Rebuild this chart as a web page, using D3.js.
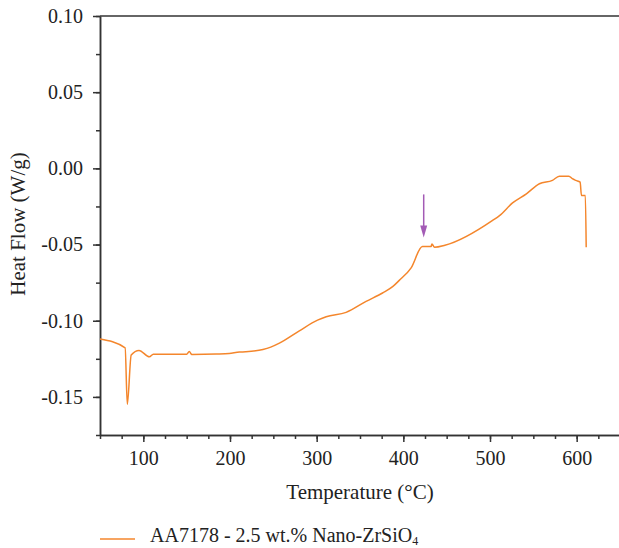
<!DOCTYPE html>
<html>
<head>
<meta charset="utf-8">
<script src="https://cdn.jsdelivr.net/npm/d3@7/dist/d3.min.js"></script>
<style>
	body { margin: 0; background: #fff; }
	.axis path, .axis line { stroke: #333; stroke-width: 1.5; }
	.axis text { font-family: "Liberation Serif", "DejaVu Serif", serif; fill: #222; }
	.label { font-family: "Liberation Serif", "DejaVu Serif", serif; fill: #222; }
</style>
</head>
<body>
<div id="chart"></div>
<script>
//Data
var temps = [50, 79, 81.5, 86, 95, 107, 111.5, 150, 153, 156, 184, 199, 211, 218, 238, 247, 257,
	280, 301, 311, 334, 357, 376, 388, 395, 409, 422, 432, 433, 436, 448, 503, 511, 526, 542,
	557, 572, 580, 591, 595, 599, 604, 605.5, 610, 611];
var heatFlow = [-0.112, -0.1178, -0.1548, -0.1225, -0.1195, -0.1237, -0.1220, -0.1220, -0.1202, -0.1222,
	-0.1219, -0.1215, -0.1206, -0.1204, -0.1189, -0.1173, -0.1147,
	-0.1066, -0.0996, -0.0974, -0.0945, -0.0873, -0.0818, -0.0775, -0.0737, -0.0653, -0.0513, -0.0513, -0.0496, -0.0518, -0.0505, -0.0342, -0.0310, -0.0227, -0.0167,
	-0.0101, -0.0079, -0.0051, -0.0051, -0.0068, -0.0079, -0.0090, -0.0178, -0.0178, -0.0518];

//Arrow marker: temperature, start and tip heat flow
var arrowTemp = 423.5;
var arrowFrom = -0.0171, arrowTo = -0.0454;

var xTicks = [100, 200, 300, 400, 500, 600];
var yTicks = [0.10, 0.05, 0.00, -0.05, -0.10, -0.15];
var seriesName = "AA7178 - 2.5 wt.% Nano-ZrSiO";

var W = 619, H = 548;
var plotL = 100, plotR = 620, plotT = 16, plotB = 435;

var xScale = d3.scaleLinear().domain([50, 650]).range([plotL, plotR]);
var yScale = d3.scaleLinear().domain([-0.175, 0.10]).range([plotB, plotT]);

var svg = d3.select("#chart").append("svg")
	.attr("width", W)
	.attr("height", H);

//minor ticks
var xMinor = d3.range(50, 651, 25);
var yMinor = d3.range(-7, 5).map(function(i) { return i * 0.025; });

//hyphen instead of unicode minus, as in the figure
var yFormat = function(d) { return d.toFixed(2); };

svg.append("g")
	.attr("class", "axis")
	.attr("transform", "translate(0," + plotB + ")")
	.call(d3.axisBottom(xScale).tickValues(xMinor).tickSize(4).tickSizeOuter(0).tickFormat(""));

svg.append("g")
	.attr("class", "axis")
	.attr("transform", "translate(0," + plotB + ")")
	.call(d3.axisBottom(xScale).tickValues(xTicks).tickSize(7).tickSizeOuter(0).tickPadding(9))
	.call(function(g) { g.selectAll("text").style("font-size", "20px"); });

svg.append("g")
	.attr("class", "axis")
	.attr("transform", "translate(" + plotL + ",0)")
	.call(d3.axisLeft(yScale).tickValues(yMinor).tickSize(4).tickSizeOuter(0).tickFormat(""));

svg.append("g")
	.attr("class", "axis")
	.attr("transform", "translate(" + plotL + ",0)")
	.call(d3.axisLeft(yScale).tickValues(yTicks).tickSize(7).tickSizeOuter(0).tickPadding(10).tickFormat(yFormat))
	.call(function(g) { g.selectAll("text").style("font-size", "20px"); });

//top frame line
svg.append("line")
	.attr("x1", plotL).attr("x2", W)
	.attr("y1", plotT).attr("y2", plotT)
	.attr("stroke", "#333").attr("stroke-width", 1.5);

//curve
var data = temps.map(function(t, i) { return {t: t, v: heatFlow[i]}; });
var line = d3.line()
	.curve(d3.curveMonotoneX)
	.x(function(d) { return xScale(d.t); })
	.y(function(d) { return yScale(d.v); });

svg.append("path")
	.datum(data)
	.attr("d", line)
	.attr("fill", "none")
	.attr("stroke", "#f4862c")
	.attr("stroke-width", 1.5);

//arrow
var ax = xScale(arrowTemp), ay1 = yScale(arrowFrom), ay2 = yScale(arrowTo);
svg.append("line")
	.attr("x1", ax).attr("x2", ax)
	.attr("y1", ay1).attr("y2", ay2 - 10)
	.attr("stroke", "#a35bb5").attr("stroke-width", 1.5);
svg.append("path")
	.attr("d", "M" + (ax - 3.5) + "," + (ay2 - 12) + "L" + (ax + 3.5) + "," + (ay2 - 12) + "L" + ax + "," + ay2 + "Z")
	.attr("fill", "#a35bb5");

//axis titles
svg.append("text")
	.attr("class", "label")
	.attr("transform", "translate(25,224) rotate(-90)")
	.attr("text-anchor", "middle")
	.style("font-size", "21px")
	.text("Heat Flow (W/g)");

svg.append("text")
	.attr("class", "label")
	.attr("x", 360).attr("y", 499)
	.attr("text-anchor", "middle")
	.style("font-size", "21px")
	.text("Temperature (°C)");

//legend
svg.append("line")
	.attr("x1", 100).attr("x2", 135)
	.attr("y1", 539).attr("y2", 539)
	.attr("stroke", "#f4862c").attr("stroke-width", 1.5);

var leg = svg.append("text")
	.attr("class", "label")
	.attr("x", 150).attr("y", 542)
	.style("font-size", "20px");
leg.append("tspan").text(seriesName);
leg.append("tspan").attr("dy", 3).style("font-size", "12px").text("4");
</script>
</body>
</html>
